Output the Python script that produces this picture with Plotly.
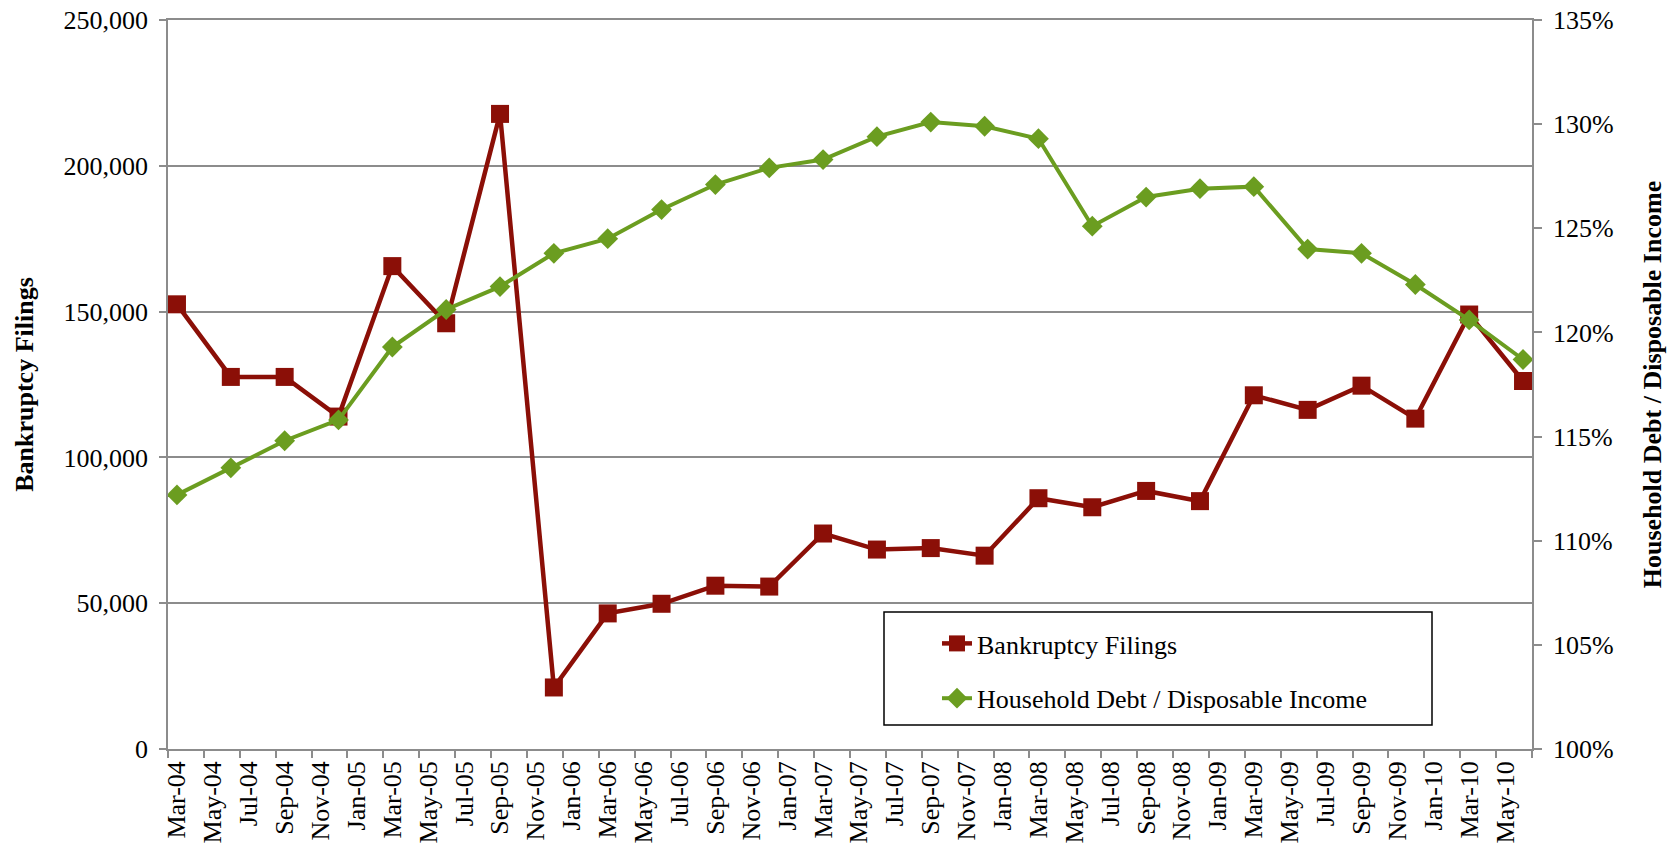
import pandas as pd
import plotly.graph_objects as go

# ---- data ----
quarters = ["Mar-04", "Jun-04", "Sep-04", "Dec-04",
            "Mar-05", "Jun-05", "Sep-05", "Dec-05",
            "Mar-06", "Jun-06", "Sep-06", "Dec-06",
            "Mar-07", "Jun-07", "Sep-07", "Dec-07",
            "Mar-08", "Jun-08", "Sep-08", "Dec-08",
            "Mar-09", "Jun-09", "Sep-09", "Dec-09",
            "Mar-10", "Jun-10"]
bankruptcy_filings = [152500, 127600, 127600, 114000,
                      165600, 146000, 217800, 21100,
                      46500, 49800, 56000, 55700,
                      73900, 68400, 68900, 66300,
                      86000, 82900, 88500, 85000,
                      121300, 116300, 124600, 113300,
                      149000, 126200]
debt_to_income = [1.122, 1.135, 1.148, 1.158,
                  1.193, 1.211, 1.222, 1.238,
                  1.245, 1.259, 1.271, 1.279,
                  1.283, 1.294, 1.301, 1.299,
                  1.293, 1.251, 1.265, 1.269,
                  1.270, 1.240, 1.238, 1.223,
                  1.206, 1.187]
# monthly category axis (labels shown every other month)
months = list(pd.date_range("2004-03-01", "2010-06-01", freq="MS").strftime("%b-%y"))

RED = "#8B0F07"
GREEN = "#6B9D20"
GRID = "#8C8C8C"
FONT = "Liberation Serif, Times New Roman, serif"

W, H = 1679, 859
# target plot area in page pixels
PX0, PX1, PY0, PY1 = 168, 1532, 20, 749

fig = go.Figure()
fig.add_trace(go.Scatter(
    x=quarters, y=bankruptcy_filings, name="Bankruptcy Filings",
    mode="lines+markers", legendgroup="a",
    line=dict(color=RED, width=4.5),
    marker=dict(symbol="square", size=18, color=RED),
    yaxis="y"))
fig.add_trace(go.Scatter(
    x=quarters, y=debt_to_income, name="Household Debt / Disposable Income",
    mode="lines+markers", legendgroup="b",
    line=dict(color=GREEN, width=4),
    marker=dict(symbol="diamond", size=16, color=GREEN),
    yaxis="y2"))


def fx(p):
    return (p - PX0) / (PX1 - PX0)


def fy(p):
    return (PY1 - p) / (PY1 - PY0)


fig.add_shape(type="rect", xref="paper", yref="paper",
              x0=fx(884), x1=fx(1432), y0=fy(725), y1=fy(612),
              line=dict(color="black", width=1.5), fillcolor="white", layer="below")

fig.update_layout(
    width=W, height=H,
    margin=dict(l=PX0, r=W - PX1, t=PY0, b=H - PY1, autoexpand=False),
    paper_bgcolor="white", plot_bgcolor="white",
    font=dict(family=FONT, size=26, color="black"),
    showlegend=True,
    legend=dict(x=fx(937), y=fy(620), xanchor="left", yanchor="top",
                bgcolor="rgba(0,0,0,0)", borderwidth=0,
                font=dict(family=FONT, size=26, color="black"),
                traceorder="grouped", tracegroupgap=18),
    xaxis=dict(
        type="category", categoryorder="array", categoryarray=months,
        range=[-0.5, len(months) - 0.5], automargin=False,
        tickmode="linear", tick0=0, dtick=2, tickson="boundaries",
        ticks="outside", ticklen=7, tickcolor=GRID, tickwidth=1.5,
        tickangle=-90, showgrid=False, ticklabeloverflow="allow",
        showline=True, mirror=True, linecolor=GRID, linewidth=1.5,
        tickfont=dict(family=FONT, size=26, color="black")),
    yaxis=dict(
        range=[0, 250000], dtick=50000, tickformat=",", automargin=False,
        showgrid=True, gridcolor=GRID, gridwidth=1.5, zeroline=False,
        showline=True, linecolor=GRID, linewidth=1.5,
        ticks="outside", ticklen=7, tickcolor=GRID, tickwidth=1.5,
        ticklabelstandoff=6, ticklabeloverflow="allow",
        title=dict(text="<b>Bankruptcy Filings</b>", standoff=22,
                   font=dict(family=FONT, size=26, color="black"))),
    yaxis2=dict(
        range=[1.0, 1.35], dtick=0.05, tickformat=".0%", automargin=False,
        overlaying="y", side="right", showgrid=False, zeroline=False,
        showline=True, linecolor=GRID, linewidth=1.5,
        ticks="outside", ticklen=8, tickcolor=GRID, tickwidth=1.5,
        ticklabelstandoff=6, ticklabeloverflow="allow",
        title=dict(text="<b>Household Debt / Disposable Income</b>", standoff=30,
                   font=dict(family=FONT, size=26, color="black"))),
)

fig.write_html("out.html",
               config={"displayModeBar": False},
               post_script="document.body.style.margin='0';"
                           "document.body.style.overflow='hidden';")
